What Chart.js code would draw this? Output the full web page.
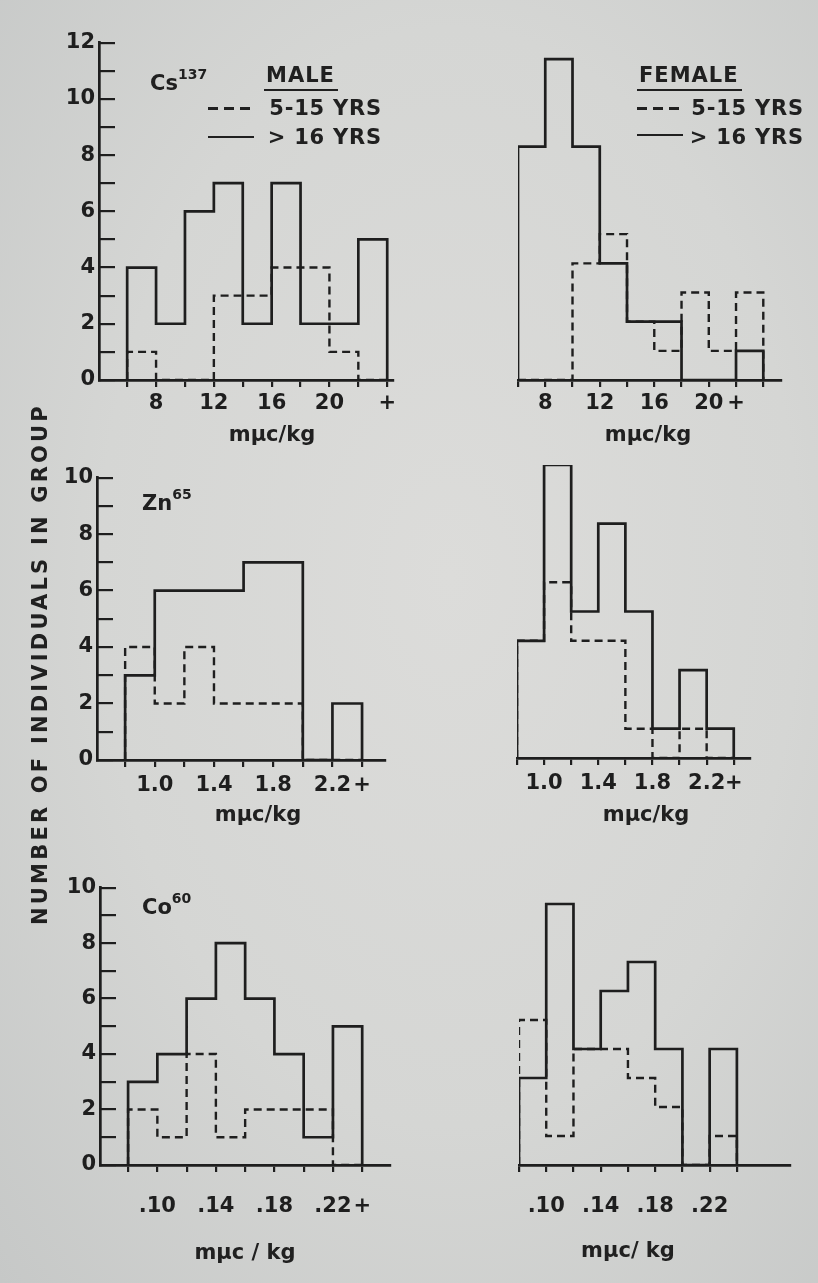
<!DOCTYPE html>
<html>
<head>
<meta charset="utf-8">
<script src="https://cdn.jsdelivr.net/npm/chart.js@4.4.1/dist/chart.umd.min.js"></script>
<style>
html, body { margin: 0; padding: 0; }
body {
  width: 818px; height: 1283px; position: relative; overflow: hidden;
  background: radial-gradient(ellipse at 55% 45%, #dcdcda 0%, #d5d6d4 55%, #c6c8c7 100%);
  font-family: "DejaVu Sans", sans-serif; font-weight: bold; color: #202020;
}
canvas { position: absolute; }
.t { position: absolute; white-space: nowrap; line-height: 1; }
.iso { font-size: 21px; }
.iso sup { font-size: 14px; vertical-align: 11px; }
.leg { font-size: 21px; text-align: right; letter-spacing: 0.8px; }
.head { font-size: 21px; letter-spacing: 1px; border-bottom: 2.6px solid #202020; padding: 0 3px 3px 2px; }
.solid { position: absolute; height: 0; border-top: 2.6px solid #202020; }
.dash { position: absolute; height: 2.6px;
  background: repeating-linear-gradient(90deg, #202020 0 10px, transparent 10px 16px); }
.unit { font-size: 21px; text-align: center; width: 140px; }
#ylab { position: absolute; left: 40px; top: 664px; width: 540px; margin-left: -270px; margin-top: -11px;
  font-size: 21px; letter-spacing: 3.2px; text-align: center; line-height: 22px;
  transform: rotate(-90deg); white-space: nowrap; }
</style>
</head>
<body>

<canvas id="csMale"></canvas>
<canvas id="csFemale"></canvas>
<canvas id="znMale"></canvas>
<canvas id="znFemale"></canvas>
<canvas id="coMale"></canvas>
<canvas id="coFemale"></canvas>

<div id="ylab">NUMBER OF INDIVIDUALS IN GROUP</div>

<div class="t iso" style="left:150px; top:67px;">Cs<sup>137</sup></div>
<div class="t iso" style="left:142px; top:487px;">Zn<sup>65</sup></div>
<div class="t iso" style="left:142px; top:891px;">Co<sup>60</sup></div>

<div class="t head" style="left:264px; top:65px;">MALE</div>
<div class="dash" style="left:208px; top:107px; width:46px;"></div>
<div class="t leg" style="left:250px; width:132px; top:98px;">5-15 YRS</div>
<div class="solid" style="left:208px; top:136px; width:46px;"></div>
<div class="t leg" style="left:250px; width:132px; top:127px;">&gt; 16 YRS</div>

<div class="t head" style="left:637px; top:65px;">FEMALE</div>
<div class="dash" style="left:637px; top:107px; width:46px;"></div>
<div class="t leg" style="left:672px; width:132px; top:98px;">5-15 YRS</div>
<div class="solid" style="left:637px; top:134px; width:46px;"></div>
<div class="t leg" style="left:672px; width:132px; top:127px;">&gt; 16 YRS</div>

<div class="t unit" style="left:202px; top:424px;">mμc/kg</div>
<div class="t unit" style="left:578px; top:424px;">mμc/kg</div>
<div class="t unit" style="left:188px; top:804px;">mμc/kg</div>
<div class="t unit" style="left:576px; top:804px;">mμc/kg</div>
<div class="t unit" style="left:175px; top:1242px;">mμc / kg</div>
<div class="t unit" style="left:558px; top:1240px;">mμc/ kg</div>

<script>
// Cs137, 2 mμc/kg bins, last bin is the open "+" class
const csEdges = [6, 8, 10, 12, 14, 16, 18, 20, 22, 24];
const csMaleYoung = [1, 0, 0, 3, 3, 4, 4, 1, 0];
const csMaleAdult = [4, 2, 6, 7, 2, 7, 2, 2, 5];
const csFemaleYoung = [0, 0, 4, 5, 2, 1, 3, 1, 3];
const csFemaleAdult = [8, 11, 8, 4, 2, 2, 0, 0, 1];
const csTicksMale = ['', '8', '', '12', '', '16', '', '20', '', '+'];
const csTicksFemale = ['', '8', '', '12', '', '16', '', '20', '+', ''];

// Zn65
const znEdges = [0.8, 1.0, 1.2, 1.4, 1.6, 1.8, 2.0, 2.2, 2.4];
const znMaleYoung = [4, 2, 4, 2, 2, 2, 0, 0];
const znMaleAdult = [3, 6, 6, 6, 7, 7, 0, 2];
const znFemaleYoung = [4, 6, 4, 4, 1, 0, 1, 0];
const znFemaleAdult = [4, 10, 5, 8, 5, 1, 3, 1];
const znTicks = ['', '1.0', '', '1.4', '', '1.8', '', '2.2', '+'];

// Co60
const coEdges = [0.08, 0.10, 0.12, 0.14, 0.16, 0.18, 0.20, 0.22, 0.24];
const coMaleYoung = [2, 1, 4, 1, 2, 2, 2, 0];
const coMaleAdult = [3, 4, 6, 8, 6, 4, 1, 5];
const coFemaleYoung = [5, 1, 4, 4, 3, 2, 0, 1];
const coFemaleAdult = [3, 9, 4, 6, 7, 4, 0, 4];
const coTicksMale = ['', '.10', '', '.14', '', '.18', '', '.22', '+'];
const coTicksFemale = ['', '.10', '', '.14', '', '.18', '', '.22', ''];

const ink = '#1e1e1e';
const fam = '"DejaVu Sans", sans-serif';

// histogram outline as a stepped line: up at first edge, down at last edge
function steps(edges, counts) {
  const pts = [{ x: edges[0], y: 0 }];
  counts.forEach((c, i) => pts.push({ x: edges[i], y: c }));
  pts.push({ x: edges[edges.length - 1], y: 0 });
  return pts;
}

function panel(id, area, p) {
  const padT = 20, padR = 30, padB = p.axisH;
  const padL = p.yAxis ? 60 : 10;
  const w = area.right - area.left + padL + padR;
  const h = area.bottom - area.top + padT + padB;
  const cv = document.getElementById(id);
  cv.width = w; cv.height = h;
  cv.style.width = w + 'px'; cv.style.height = h + 'px';
  cv.style.left = (area.left - padL) + 'px';
  cv.style.top = (area.top - padT) + 'px';

  new Chart(cv.getContext('2d'), {
    type: 'line',
    data: {
      datasets: [{
        label: '> 16 YRS',
        data: steps(p.edges, p.adult),
        borderColor: ink,
        borderWidth: 2.7,
        stepped: 'before',
        pointRadius: 0
      }, {
        label: '5-15 YRS',
        data: steps(p.edges, p.young),
        borderColor: ink,
        borderWidth: 2.4,
        borderDash: [8, 5],
        stepped: 'before',
        pointRadius: 0
      }]
    },
    options: {
      responsive: false,
      animation: false,
      events: [],
      layout: { padding: { left: p.yAxis ? 0 : padL, top: padT, right: padR, bottom: 0 } },
      plugins: { legend: { display: false }, tooltip: { enabled: false } },
      scales: {
        x: {
          type: 'linear',
          min: p.xMin,
          max: p.xMax,
          afterBuildTicks: s => { s.ticks = p.edges.map(v => ({ value: v })); },
          afterFit: s => { s.height = padB; },
          ticks: {
            autoSkip: false,
            maxRotation: 0,
            padding: p.labelPad,
            color: ink,
            font: { family: fam, size: 21, weight: 'bold' },
            callback: (v, i) => p.labels[i]
          },
          grid: { drawOnChartArea: false, tickLength: 7, color: ink, lineWidth: 2.2 },
          border: { color: ink, width: 2.7 }
        },
        y: {
          display: p.yAxis,
          min: 0,
          max: p.yMax,
          afterFit: s => { s.width = padL; },
          ticks: {
            stepSize: 1,
            autoSkip: false,
            padding: 20,
            color: ink,
            font: { family: fam, size: 21, weight: 'bold' },
            callback: v => (v % 2 === 0 ? v : '')
          },
          grid: { drawOnChartArea: false, tickLength: -16, color: ink, lineWidth: 2.2 },
          border: { color: ink, width: 2.7 }
        }
      }
    }
  });
}

panel('csMale', { left: 99, right: 393, top: 30, bottom: 380 }, {
  edges: csEdges, young: csMaleYoung, adult: csMaleAdult, labels: csTicksMale,
  xMin: 4.05, xMax: 24.4, yMax: 12, yAxis: true, axisH: 70, labelPad: 4
});
panel('csFemale', { left: 508, right: 781, top: 30, bottom: 380 }, {
  edges: csEdges, young: csFemaleYoung, adult: csFemaleAdult, labels: csTicksFemale,
  xMin: 6, xMax: 25.3, yMax: 12, yAxis: false, axisH: 70, labelPad: 4
});
panel('znMale', { left: 97, right: 385, top: 465, bottom: 760 }, {
  edges: znEdges, young: znMaleYoung, adult: znMaleAdult, labels: znTicks,
  xMin: 0.61, xMax: 2.555, yMax: 10, yAxis: true, axisH: 70, labelPad: 6
});
panel('znFemale', { left: 507, right: 750, top: 465, bottom: 758 }, {
  edges: znEdges, young: znFemaleYoung, adult: znFemaleAdult, labels: znTicks,
  xMin: 0.8, xMax: 2.52, yMax: 10, yAxis: false, axisH: 70, labelPad: 6
});
panel('coMale', { left: 100, right: 390, top: 875, bottom: 1165 }, {
  edges: coEdges, young: coMaleYoung, adult: coMaleAdult, labels: coTicksMale,
  xMin: 0.0608, xMax: 0.259, yMax: 10, yAxis: true, axisH: 80, labelPad: 22
});
panel('coFemale', { left: 507, right: 790, top: 875, bottom: 1165 }, {
  edges: coEdges, young: coFemaleYoung, adult: coFemaleAdult, labels: coTicksFemale,
  xMin: 0.08, xMax: 0.279, yMax: 10, yAxis: false, axisH: 80, labelPad: 22
});
</script>
</body>
</html>
